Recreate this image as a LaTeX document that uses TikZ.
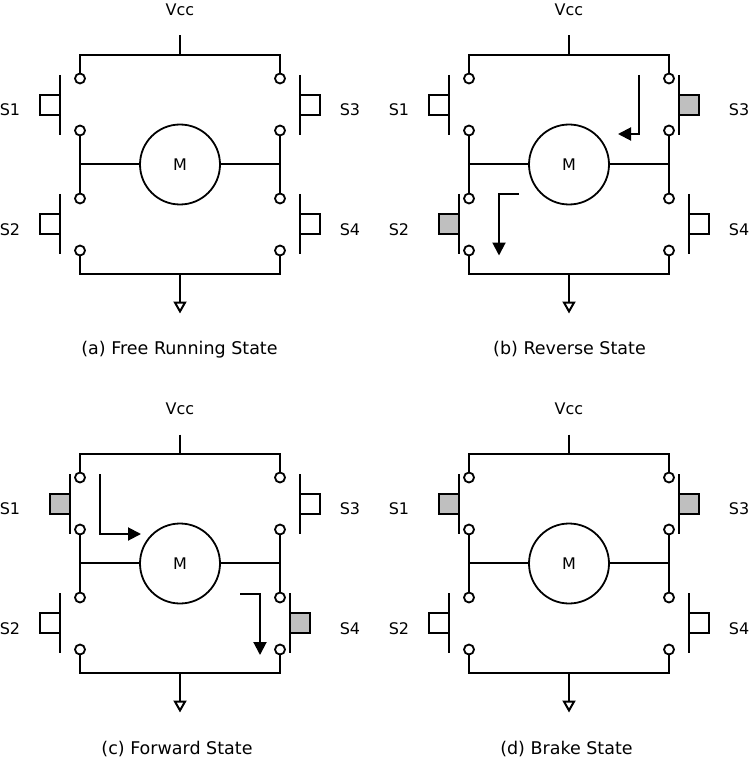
\documentclass[tikz,border=0pt]{standalone}
\usepackage{fontspec}
\setmainfont{DejaVu Sans}
\usetikzlibrary{arrows.meta}
\tikzstyle{wire}=[draw, line width=2pt]
\tikzstyle{terminal}=[draw, circle, line width=1.8pt, fill=white, inner sep=0pt, minimum size=10pt]
\tikzstyle{plunger}=[draw, line width=2pt, inner sep=0pt, minimum size=20pt]
\tikzstyle{motor}=[draw, circle, line width=1.8pt, inner sep=0pt, minimum size=80pt, font=\fontsize{16}{18}\selectfont]
\tikzstyle{label}=[inner sep=0pt, font=\fontsize{16}{18}\selectfont]
\tikzstyle{caption}=[inner sep=0pt, font=\fontsize{17.5}{20}\selectfont]
\tikzstyle{current}=[wire, -{Triangle[length=13pt,width=13pt]}]
\tikzstyle{ground}=[wire, -{Triangle[open,fill=white,length=12pt,width=13pt]}]

% #1 name, #2 x of the terminals, #3 y, #4 side (-1 or 1), #5 pressed (0 or 1)
\newcommand{\hswitch}[5]{
\pgfmathsetmacro{\barx}{#2+#4*(20-10*#5)}
\coordinate (#1-t) at (\barx, #3-30);
\coordinate (#1-b) at (\barx, #3+30);
\draw[wire] (#1-t) -- (#1-b);
\ifnum#5=1
\node[plunger, fill=gray!50] (#1) at (\barx+#4*10, #3) {};
\else
\node[plunger] (#1) at (\barx+#4*10, #3) {};
\fi
}

% #1 prefix, #2 dx, #3 dy, #4 caption, #5..#8 state of S1..S4, #9 x of the caption
\newcommand{\hbridge}[9]{
\begin{scope}[shift={(#2,#3)}, name prefix=#1-]
\node[terminal] (l1) at (80, 78.5) {};
\node[terminal] (l2) at (80, 130.5) {};
\node[terminal] (l3) at (80, 198.5) {};
\node[terminal] (l4) at (80, 250.5) {};
\node[terminal] (r1) at (280, 78.5) {};
\node[terminal] (r2) at (280, 130.5) {};
\node[terminal] (r3) at (280, 198.5) {};
\node[terminal] (r4) at (280, 250.5) {};
\node[motor] (m) at (180, 164.5) {M};
\coordinate (vccj) at (180, 55);
\coordinate (vcc) at (180, 35.5);
\coordinate (gndj) at (180, 274);
\coordinate (gnd) at (180, 313.5);
\coordinate (lj) at (80, 164);
\coordinate (rj) at (280, 164);
\draw[wire] (l1) |- (vccj) -| (r1);
\draw[wire] (l4) |- (gndj) -| (r4);
\draw[wire] (vcc) -- (vccj);
\draw[ground] (gndj) -- (gnd);
\draw[wire] (l2) -- (l3);
\draw[wire] (r2) -- (r3);
\draw[wire] (lj) -- (lj -| m.west);
\draw[wire] (rj) -- (rj -| m.east);
\hswitch{s1}{80}{105}{-1}{#5}
\hswitch{s2}{80}{224}{-1}{#6}
\hswitch{s3}{280}{105}{1}{#7}
\hswitch{s4}{280}{224}{1}{#8}
\node[label] (ls1) at (10, 109.5) {S1};
\node[label] (ls2) at (10, 229.5) {S2};
\node[label] (ls3) at (350, 109.5) {S3};
\node[label] (ls4) at (350, 229.5) {S4};
\node[label] (lvcc) at (180, 10) {Vcc};
\node[caption] (cap) at (#9, 349.5) {#4};
\end{scope}
}

\begin{document}
\begin{tikzpicture}[x=1pt, y=-1pt]
\useasboundingbox (0, 0) rectangle (750, 759);
\hbridge{a}{0}{0}{(a) Free Running State}{0}{0}{0}{0}{179.5}
\hbridge{b}{389}{0}{(b) Reverse State}{0}{1}{1}{0}{180.5}
\hbridge{c}{0}{399}{(c) Forward State}{1}{0}{0}{1}{177}
\hbridge{d}{389}{399}{(d) Brake State}{1}{0}{1}{0}{177.5}
% current through the motor
\coordinate (b1s) at (639, 75);
\coordinate (b1k) at (639, 134);
\coordinate (b1e) at (618, 134);
\draw[current] (b1s) -- (b1k) -- (b1e);
\coordinate (b2s) at (519, 194);
\coordinate (b2k) at (499, 194);
\coordinate (b2e) at (499, 255.5);
\draw[current] (b2s) -- (b2k) -- (b2e);
\coordinate (c1s) at (100, 474);
\coordinate (c1k) at (100, 534);
\coordinate (c1e) at (141, 534);
\draw[current] (c1s) -- (c1k) -- (c1e);
\coordinate (c2s) at (240, 594);
\coordinate (c2k) at (260, 594);
\coordinate (c2e) at (260, 655);
\draw[current] (c2s) -- (c2k) -- (c2e);
\end{tikzpicture}
\end{document}
